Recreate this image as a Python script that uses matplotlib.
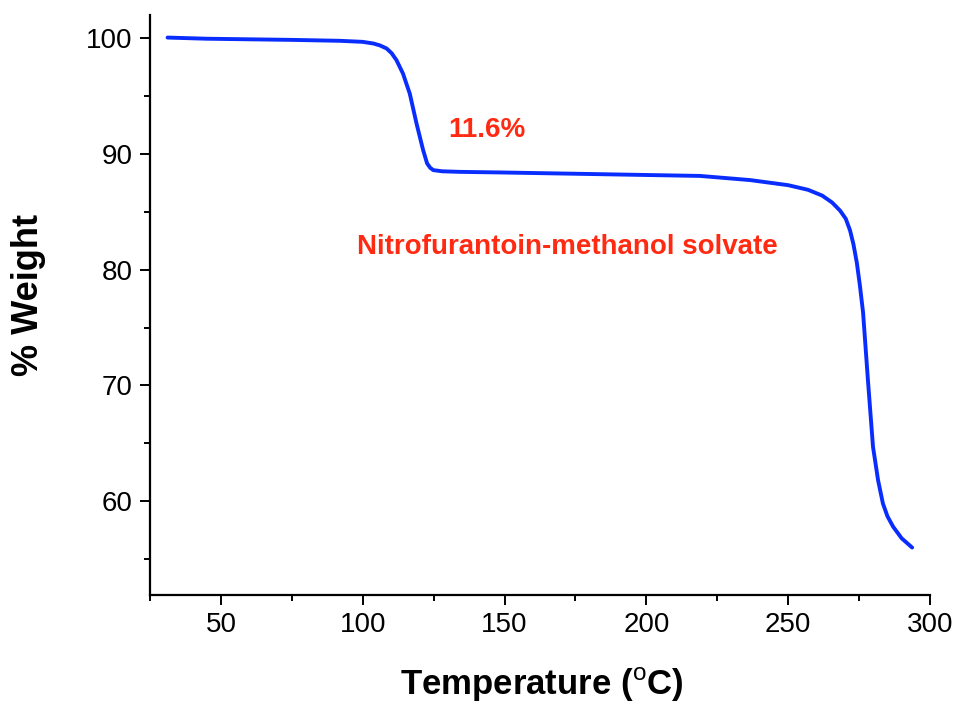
import numpy as np
import matplotlib
matplotlib.use("Agg")
import matplotlib.pyplot as plt
from matplotlib.ticker import MultipleLocator

plt.rcParams['font.family'] = ['Liberation Sans', 'DejaVu Sans']
plt.rcParams['mathtext.fontset'] = 'custom'
plt.rcParams['mathtext.rm'] = 'Liberation Sans'
plt.rcParams['mathtext.bf'] = 'Liberation Sans:bold'

# TGA trace
temp = [31.2, 45.0, 60.0, 75.0, 92.0, 100.0, 103.7, 106.0, 108.4, 110.2, 111.9,
        114.2, 116.6, 119.0, 121.3, 122.7, 123.8, 124.9, 128.0, 134.3, 148.4,
        165.0, 183.7, 200.0, 218.9, 236.6, 250.0, 257.0, 262.0, 265.5, 268.3,
        270.3, 271.8, 273.0, 274.2, 275.3, 276.4, 278.1, 279.9, 281.7, 283.4,
        285.0, 287.0, 290.0, 293.7]
weight = [100.05, 99.95, 99.9, 99.85, 99.77, 99.68, 99.54, 99.38, 99.11, 98.7, 98.1,
          96.94, 95.2, 92.6, 90.33, 89.18, 88.8, 88.6, 88.5, 88.45, 88.4,
          88.33, 88.25, 88.18, 88.1, 87.74, 87.3, 86.9, 86.4, 85.8, 85.1,
          84.4, 83.4, 82.2, 80.6, 78.6, 76.3, 70.5, 64.7, 61.8, 59.8,
          58.7, 57.8, 56.8, 56.0]

fig = plt.figure(figsize=(9.57, 7.04), dpi=100)
ax = fig.add_axes([0.1567, 0.1548, 0.8151, 0.8239])

ax.plot(temp, weight, color='#0a2dff', lw=2.8, solid_capstyle='round')

ax.text(143.8, 92.05, '11.6%', color='#ff2a12', fontsize=20, fontweight='bold',
        ha='center', va='center')
ax.text(172.0, 81.95, 'Nitrofurantoin-methanol solvate', color='#ff2a12',
        fontsize=20, fontweight='bold', ha='center', va='center')

ax.set_xlim(25, 300)
ax.set_ylim(51.9, 102)
ax.xaxis.set_major_locator(MultipleLocator(50))
ax.xaxis.set_minor_locator(MultipleLocator(25))
ax.yaxis.set_major_locator(MultipleLocator(10))
ax.yaxis.set_minor_locator(MultipleLocator(5))
ax.set_xticks([50, 100, 150, 200, 250, 300])
ax.set_yticks([60, 70, 80, 90, 100])

for s in ['top', 'right']:
    ax.spines[s].set_visible(False)
for s in ['left', 'bottom']:
    ax.spines[s].set_linewidth(1.6)

ax.tick_params(which='major', direction='out', length=7.5, width=1.4, labelsize=20, pad=5)
ax.tick_params(which='minor', direction='out', length=4.5, width=1.4)

ax.set_xlabel(r'Temperature ($^{\rm o}$C)', fontsize=25, fontweight='bold')
ax.xaxis.label.set_va('baseline')
ax.xaxis.set_label_coords(0.502, -0.173)
ax.set_ylabel('% Weight', fontsize=26, fontweight='bold')
ax.yaxis.set_label_coords(-0.1333, 0.517)

fig.savefig('out.png', dpi=100)
